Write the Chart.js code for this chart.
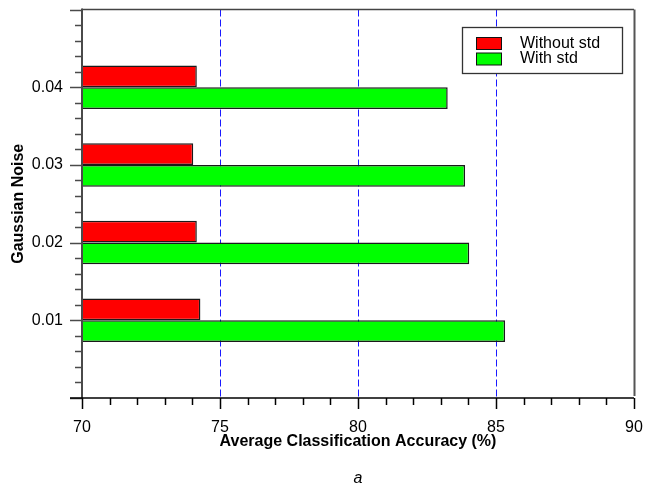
<!DOCTYPE html>
<html>
<head>
<meta charset="utf-8">
<script src="https://cdn.jsdelivr.net/npm/chart.js@4/dist/chart.umd.min.js"></script>
<style>
  html, body { margin: 0; padding: 0; background: #fff; }
  #wrap { width: 654px; height: 488px; }
</style>
</head>
<body>
<div id="wrap"><canvas id="c" width="654" height="488"></canvas></div>
<script>
// Noise levels (y positions) and accuracy per configuration
const noiseLevels = [0.01, 0.02, 0.03, 0.04];
const withoutStd = [74.29, 74.16, 74.03, 74.16];
const withStd = [85.33, 84.03, 83.88, 83.25];
const seriesNames = ['Without std', 'With std'];
const yTickLabels = ['0.01', '0.02', '0.03', '0.04'];
const xTickLabels = ['70', '75', '80', '85', '90'];
const panelLabel = 'a';

const FONT = '"Liberation Sans", Arial, Helvetica, sans-serif';

const isMultiple = (v, step) => Math.abs(v / step - Math.round(v / step)) < 1e-6;

// Frame, tick marks, dashed grid, in-plot legend and panel letter
const decorations = {
  id: 'decorations',
  beforeDatasetsDraw(chart) {
    const { ctx, chartArea: a, scales: { x } } = chart;
    ctx.save();
    ctx.strokeStyle = '#1a1aff';
    ctx.lineWidth = 1;
    ctx.setLineDash([7, 3]);
    x.ticks.forEach(t => {
      if (!isMultiple(t.value, 5) || t.value === x.min || t.value === x.max) return;
      const px = Math.round(x.getPixelForValue(t.value)) + 0.5;
      ctx.beginPath();
      ctx.moveTo(px, a.top);
      ctx.lineTo(px, a.bottom);
      ctx.stroke();
    });
    ctx.restore();
  },
  afterDatasetsDraw(chart) {
    const { ctx, chartArea: a, scales: { x, y } } = chart;
    ctx.save();
    // top and right border
    ctx.strokeStyle = '#444';
    ctx.lineWidth = 1.5;
    ctx.beginPath();
    ctx.moveTo(a.left, a.top);
    ctx.lineTo(a.right, a.top);
    ctx.stroke();
    ctx.strokeStyle = '#555';
    ctx.lineWidth = 2;
    ctx.beginPath();
    ctx.moveTo(a.right + 0.5, a.top);
    ctx.lineTo(a.right + 0.5, a.bottom - 2);
    ctx.stroke();
    // left axis with ticks
    ctx.strokeStyle = '#4a4a4a';
    ctx.lineWidth = 2;
    ctx.beginPath();
    ctx.moveTo(a.left, a.top - 1);
    ctx.lineTo(a.left, a.bottom);
    ctx.stroke();
    ctx.lineWidth = 1.5;
    y.ticks.forEach(t => {
      const py = Math.round(y.getPixelForValue(t.value)) + 0.5;
      const len = isMultiple(t.value, 0.01) ? 12 : 7;
      ctx.beginPath();
      ctx.moveTo(a.left - len, py);
      ctx.lineTo(a.left, py);
      ctx.stroke();
    });
    // bottom axis with ticks
    ctx.strokeStyle = '#000';
    ctx.lineWidth = 1.5;
    ctx.beginPath();
    ctx.moveTo(a.left - 12, a.bottom);
    ctx.lineTo(a.right, a.bottom);
    ctx.stroke();
    x.ticks.forEach(t => {
      const px = Math.round(x.getPixelForValue(t.value)) + 0.5;
      const len = isMultiple(t.value, 5) ? 11 : 7;
      ctx.beginPath();
      ctx.moveTo(px, a.bottom);
      ctx.lineTo(px, a.bottom + len);
      ctx.stroke();
    });
    ctx.restore();
  },
  afterDraw(chart) {
    const { ctx, chartArea: a } = chart;
    const box = { x: 462.5, y: 27.5, w: 160, h: 46 };
    ctx.save();
    ctx.fillStyle = '#fff';
    ctx.fillRect(box.x, box.y, box.w, box.h);
    ctx.strokeStyle = '#333';
    ctx.lineWidth = 1.3;
    ctx.strokeRect(box.x, box.y, box.w, box.h);
    ctx.font = '16px ' + FONT;
    ctx.textBaseline = 'middle';
    chart.data.datasets.forEach((ds, i) => {
      const sy = 37.5 + i * 15.5;
      ctx.fillStyle = ds.backgroundColor;
      ctx.fillRect(476.5, sy, 25, 12);
      ctx.strokeStyle = '#111';
      ctx.lineWidth = 1;
      ctx.strokeRect(476.5, sy, 25, 12);
      ctx.fillStyle = '#000';
      ctx.fillText(ds.label, 520, sy + 6);
    });
    // panel letter under the axis title
    ctx.font = 'italic 16px ' + FONT;
    ctx.textAlign = 'center';
    ctx.textBaseline = 'alphabetic';
    ctx.fillStyle = '#000';
    ctx.fillText(panelLabel, (a.left + a.right) / 2, 483);
    ctx.restore();
  }
};

const toPoints = vals => vals.map((v, i) => ({ x: v, y: noiseLevels[i] }));

new Chart(document.getElementById('c'), {
  type: 'bar',
  data: {
    datasets: [
      {
        label: seriesNames[0],
        data: toPoints(withoutStd),
        backgroundColor: '#ff0000',
        borderColor: '#1a1a1a',
        borderWidth: 1.5,
        borderSkipped: false
      },
      {
        label: seriesNames[1],
        data: toPoints(withStd),
        backgroundColor: '#00ff00',
        borderColor: '#1a1a1a',
        borderWidth: 1.5,
        borderSkipped: false
      }
    ]
  },
  options: {
    indexAxis: 'y',
    responsive: false,
    animation: false,
    // bar group spans 0.0056 in noise units; tick spacing is 0.002
    categoryPercentage: 2.8,
    barPercentage: 1.0,
    layout: { padding: { top: 9.5, right: 20, left: 0, bottom: 0 } },
    plugins: {
      legend: { display: false },
      tooltip: { enabled: false },
      title: { display: false }
    },
    scales: {
      x: {
        type: 'linear',
        min: 70,
        max: 90,
        grid: { display: false, drawTicks: false },
        border: { display: false },
        afterFit(s) { s.height = 90; s.paddingLeft = 0; s.paddingRight = 0; },
        ticks: {
          stepSize: 1,
          autoSkip: false,
          maxRotation: 0,
          padding: 20,
          color: '#000',
          font: { family: FONT, size: 16 },
          callback: v => xTickLabels.find(l => Number(l) === v) || ''
        },
        title: {
          display: true,
          text: 'Average Classification Accuracy (%)',
          color: '#000',
          font: { family: FONT, size: 16, weight: 'bold' },
          padding: { top: 0, bottom: 36.4 }
        }
      },
      y: {
        type: 'linear',
        min: 0,
        max: 0.05,
        offset: false,
        grid: { display: false, drawTicks: false, offset: false },
        border: { display: false },
        afterFit(s) { s.width = 82; s.paddingTop = 0; s.paddingBottom = 0; },
        ticks: {
          stepSize: 0.002,
          autoSkip: false,
          padding: 19,
          color: '#000',
          font: { family: FONT, size: 16 },
          callback: v => yTickLabels.find(l => Math.abs(Number(l) - v) < 1e-9) || ''
        },
        title: {
          display: true,
          text: 'Gaussian Noise',
          color: '#000',
          font: { family: FONT, size: 16, weight: 'bold' },
          padding: { top: 9, bottom: 0 }
        }
      }
    }
  },
  plugins: [decorations]
});
</script>
</body>
</html>
